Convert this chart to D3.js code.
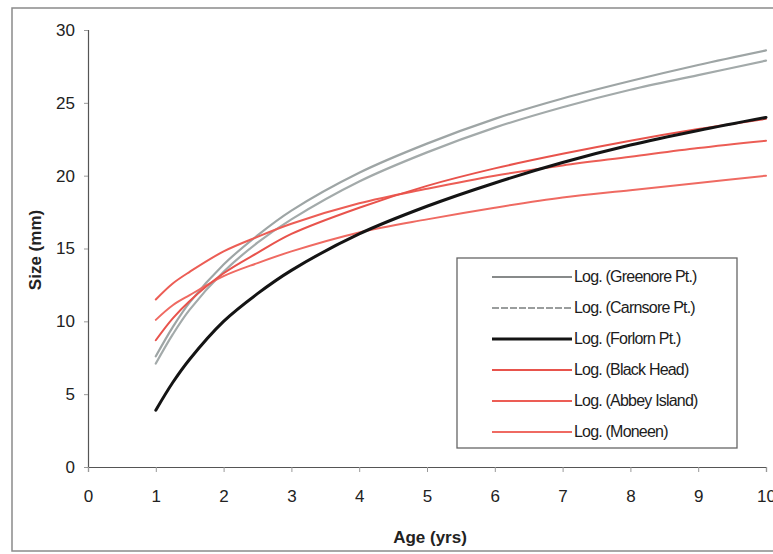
<!DOCTYPE html>
<html>
<head>
<meta charset="utf-8">
<script src="https://cdn.jsdelivr.net/npm/d3@7"></script>
<style>
  html, body { margin: 0; padding: 0; background: #fff; }
  svg { display: block; }
</style>
</head>
<body>
<svg id="chart" width="773" height="554"></svg>
<script>
// Ages at which each growth curve is sampled
const ages = [1, 1.25, 1.5, 2, 2.5, 3, 4, 5, 6, 7, 8, 9, 10];

// Series names as shown in the legend
const seriesNames = [
  "Log. (Greenore Pt.)",
  "Log. (Carnsore Pt.)",
  "Log. (Forlorn Pt.)",
  "Log. (Black Head)",
  "Log. (Abbey Island)",
  "Log. (Moneen)"
];

// Size (mm) at each age, one array per site
const greenore    = [7.6, 9.6, 11.3, 13.9, 15.9, 17.6, 20.2, 22.2, 23.9, 25.3, 26.5, 27.6, 28.6];
const carnsore    = [7.1, 9.1, 10.8, 13.4, 15.4, 17.0, 19.6, 21.6, 23.3, 24.7, 25.9, 26.9, 27.9];
const forlorn     = [3.9, 5.8, 7.4, 10.0, 11.9, 13.5, 16.0, 17.9, 19.5, 20.9, 22.1, 23.1, 24.0];
const blackHead   = [8.7, 10.2, 11.4, 13.3, 14.7, 16.0, 17.8, 19.3, 20.5, 21.5, 22.4, 23.2, 23.9];
const abbeyIsland = [11.5, 12.6, 13.4, 14.8, 15.8, 16.7, 18.1, 19.1, 20.0, 20.7, 21.3, 21.9, 22.4];
const moneen      = [10.1, 11.1, 11.8, 13.1, 14.0, 14.8, 16.1, 17.0, 17.8, 18.5, 19.0, 19.5, 20.0];

// Axis ticks
const xTicks = [0, 1, 2, 3, 4, 5, 6, 7, 8, 9, 10];
const yTicks = [0, 5, 10, 15, 20, 25, 30];

// Line styles per series
const seriesColors = ["#9ea5a5", "#a3aaaa", "#141414", "#e8534c", "#ec5d55", "#ef6a62"];
const legendColors = ["#5f6363", "#7a7e7e", "#141414", "#e8534c", "#ec5d55", "#ef6a62"];
const legendWidths = [1.5, 1.5, 3, 2, 2, 2];
const legendDashes = [null, "7,2", null, null, null, null];
const seriesWidths = [2.2, 2.2, 3, 2, 2, 2];

const seriesValues = [greenore, carnsore, forlorn, blackHead, abbeyIsland, moneen];
// Draw order: grays first, then reds, black on top
const drawOrder = [0, 1, 5, 4, 3, 2];

const svg = d3.select("#chart");

// Outer frame of the chart area
svg.append("rect")
  .attr("x", 12).attr("y", 8)
  .attr("width", 800).attr("height", 543)
  .attr("fill", "#fff")
  .attr("stroke", "#8a8a8a").attr("stroke-width", 1.5);

const x = d3.scaleLinear().domain([0, 10]).range([88, 766]);
const y = d3.scaleLinear().domain([0, 30]).range([467, 30]);

const axisFont = "'Liberation Sans', Arial, sans-serif";

// Y axis
const yAxis = svg.append("g")
  .attr("transform", `translate(${x(0)},0)`)
  .call(d3.axisLeft(y).tickValues(yTicks).tickSize(4).tickPadding(9));
yAxis.select(".domain").attr("stroke", "#555").attr("stroke-width", 1.2);
yAxis.selectAll(".tick line").attr("stroke", "#999");
yAxis.selectAll("text")
  .attr("font-family", axisFont).attr("font-size", 17)
  .attr("fill", "#222");

// X axis
const xAxis = svg.append("g")
  .attr("transform", `translate(0,${y(0)})`)
  .call(d3.axisBottom(x).tickValues(xTicks).tickSize(5).tickPadding(18));
xAxis.select(".domain").attr("stroke", "#555").attr("stroke-width", 1.2);
xAxis.selectAll(".tick line").attr("stroke", "#999");
xAxis.selectAll("text")
  .attr("font-family", axisFont).attr("font-size", 17)
  .attr("fill", "#222");

// Axis titles
svg.append("text")
  .attr("x", 430).attr("y", 543)
  .attr("text-anchor", "middle")
  .attr("font-family", axisFont).attr("font-size", 17).attr("font-weight", "bold")
  .attr("fill", "#222")
  .text("Age (yrs)");

svg.append("text")
  .attr("transform", "translate(41,250) rotate(-90)")
  .attr("text-anchor", "middle")
  .attr("font-family", axisFont).attr("font-size", 17).attr("font-weight", "bold")
  .attr("fill", "#222")
  .text("Size (mm)");

// Growth curves
const line = d3.line()
  .x((d, i) => x(ages[i]))
  .y(d => y(d))
  .curve(d3.curveCatmullRom.alpha(0.5));

svg.append("g").selectAll("path")
  .data(drawOrder)
  .join("path")
  .attr("d", k => line(seriesValues[k]))
  .attr("fill", "none")
  .attr("stroke", k => seriesColors[k])
  .attr("stroke-width", k => seriesWidths[k])
  .attr("stroke-linecap", "round")
  .attr("stroke-linejoin", "round");

// Legend
const legend = svg.append("g");
legend.append("rect")
  .attr("x", 457).attr("y", 258)
  .attr("width", 280).attr("height", 190)
  .attr("fill", "#fff")
  .attr("stroke", "#666").attr("stroke-width", 1.3);

const rowY = d3.scaleLinear().domain([0, 5]).range([277, 432]);
const rows = legend.selectAll("g.row")
  .data(seriesNames)
  .join("g")
  .attr("class", "row")
  .attr("transform", (d, i) => `translate(0,${rowY(i)})`);

rows.append("line")
  .attr("x1", 492).attr("x2", 572)
  .attr("stroke", (d, i) => legendColors[i])
  .attr("stroke-width", (d, i) => legendWidths[i])
  .attr("stroke-dasharray", (d, i) => legendDashes[i]);

rows.append("text")
  .attr("x", 574).attr("y", 5)
  .attr("font-family", "'Liberation Sans Narrow', 'Arial Narrow', 'Liberation Sans', sans-serif")
  .attr("font-size", 16)
  .attr("letter-spacing", -0.8)
  .attr("fill", "#1c1c1c")
  .text(d => d);
</script>
</body>
</html>
